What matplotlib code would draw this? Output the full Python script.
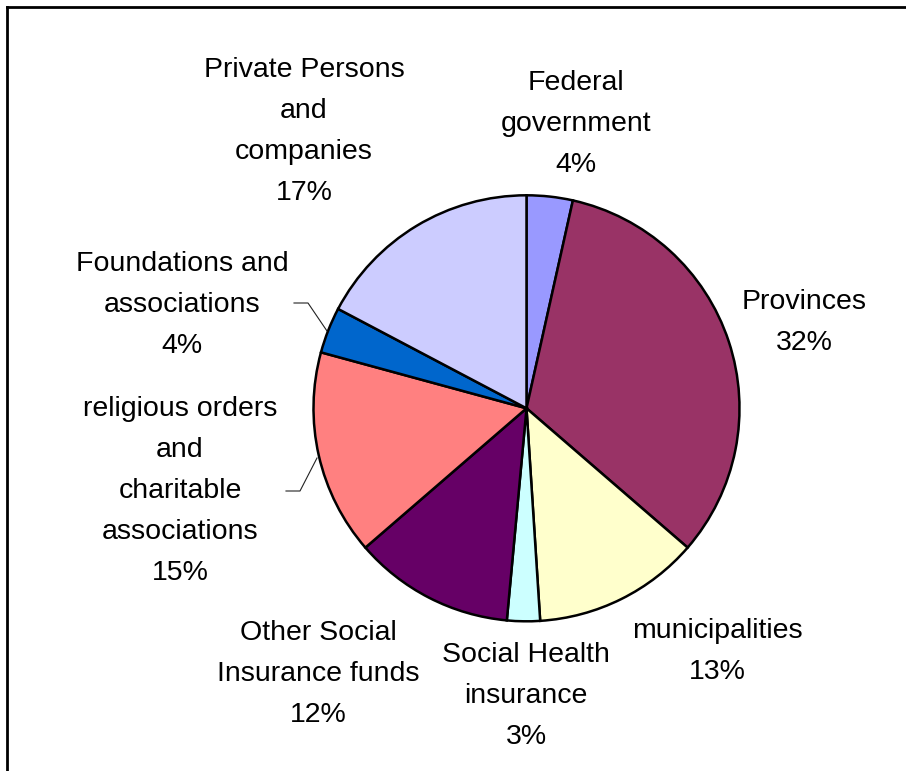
import matplotlib.pyplot as plt
from matplotlib.lines import Line2D

# shares of financing, labels as printed
labels = ['Federal\ngovernment\n4%',
          'Provinces\n32%',
          'municipalities\n13%',
          'Social Health\ninsurance\n3%',
          'Other Social\nInsurance funds\n12%',
          'religious orders\nand\ncharitable\nassociations\n15%',
          'Foundations and\nassociations\n4%',
          'Private Persons\nand\ncompanies\n17%']
shares = [3.5, 32.9, 12.65, 2.5, 12.2, 15.6, 3.5, 17.3]
colors = ['#9999FF', '#993366', '#FFFFCC', '#CCFFFF',
          '#660066', '#FF8080', '#0066CC', '#CCCCFF']

# label placement (pixel coords, x centre and first baseline from top)
label_x = [576, 804, 717, 526, 318, 180, 182, 304]
label_y = [90, 309, 638, 662, 640, 416, 271, 77]

W, H = 906, 771
fig = plt.figure(figsize=(W / 100, H / 100), dpi=100)
ax = fig.add_axes([0, 0, 1, 1])

ax.pie(shares, colors=colors, startangle=90, counterclock=False,
       center=(526.5, H - 408.3), radius=213,
       wedgeprops=dict(edgecolor='black', linewidth=1.8))
ax.set_xlim(0, W)
ax.set_ylim(0, H)
ax.set_aspect('equal')
ax.axis('off')

for lab, x, y in zip(labels, label_x, label_y):
    for i, line in enumerate(lab.split('\n')):
        ax.text(x, H - (y + i * 41), line, ha='center', va='baseline',
                fontsize=20.5, family='Liberation Sans', color='black')

# leader lines for the two small left-hand labels
ax.plot([294, 308, 327], [H - 303, H - 303, H - 331], color='#222222', lw=0.8)
ax.plot([286, 300, 317], [H - 491, H - 491, H - 458], color='#222222', lw=0.8)

# chart-area border (only top and left visible in the crop)
fig.add_artist(Line2D([7 / W, 1], [1 - 7 / H, 1 - 7 / H], color='black', lw=2,
                      transform=fig.transFigure))
fig.add_artist(Line2D([7 / W, 7 / W], [0, 1 - 7 / H], color='black', lw=2,
                      transform=fig.transFigure))

plt.savefig('out.png', dpi=100)
